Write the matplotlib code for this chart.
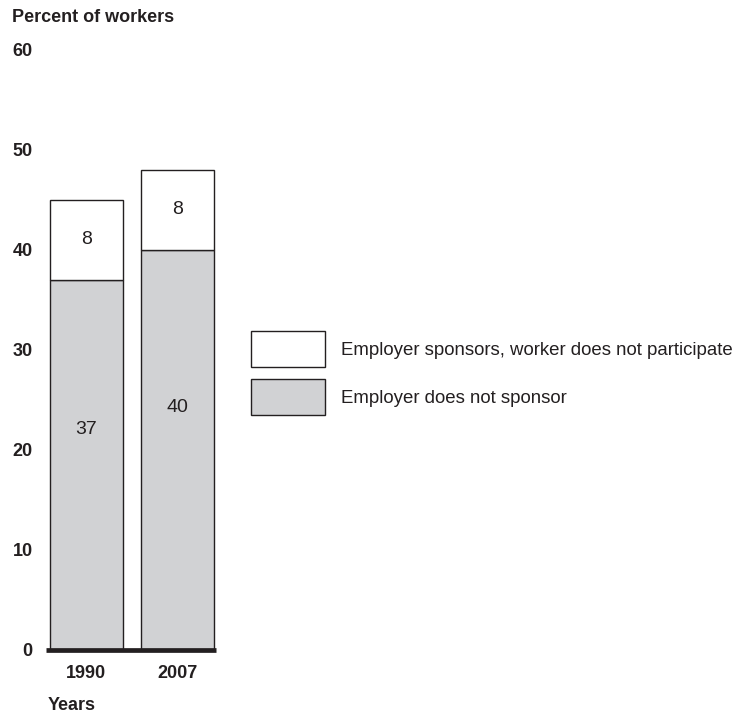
import matplotlib.pyplot as plt
from matplotlib.patches import Patch

plt.rcParams['font.family'] = ['Liberation Sans', 'DejaVu Sans']

# data
years = ['1990', '2007']
not_sponsor = [37, 40]
sponsor_not_participate = [8, 8]
series_names = ['Employer sponsors, worker does not participate',
                'Employer does not sponsor']
yticks = [0, 10, 20, 30, 40, 50, 60]

ink = '#231f20'
gray = '#d1d2d4'

fig = plt.figure(figsize=(7.39, 7.18), dpi=100)
W, H = 739, 718
ax = fig.add_axes([48 / W, (H - 650) / H, 168 / W, 600 / H])

x = range(len(years))
ax.bar(x, not_sponsor, width=0.8, color=gray, edgecolor=ink, linewidth=1.0)
ax.bar(x, sponsor_not_participate, width=0.8, bottom=not_sponsor,
       color='white', edgecolor=ink, linewidth=1.0)

# value labels
low_label_y = [22, 24.2]
for i in x:
    ax.text(i, low_label_y[i], str(not_sponsor[i]), ha='center', va='center',
            fontsize=14, color=ink)
    ax.text(i, not_sponsor[i] + sponsor_not_participate[i] / 2,
            str(sponsor_not_participate[i]), ha='center', va='center',
            fontsize=14, color=ink)

ax.axhline(0, xmin=-0.01, xmax=1.0, color=ink, linewidth=3.4, zorder=5,
           clip_on=False, solid_capstyle='butt')

ax.set_xlim(-0.42, 1.42)
ax.set_ylim(0, 60)
ax.set_yticks(yticks)
ax.set_yticklabels([str(t) for t in yticks], fontsize=13, fontweight='bold', color=ink)
ax.set_xticks(list(x))
ax.set_xticklabels(years, fontsize=13, fontweight='bold', color=ink)
ax.tick_params(axis='y', length=0, pad=11)
ax.tick_params(axis='x', length=0, pad=11)
for s in ax.spines.values():
    s.set_visible(False)

fig.text(12 / W, 1 - 18 / H, 'Percent of workers', fontsize=13, fontweight='bold',
         color=ink, va='center', ha='left')
fig.text(48 / W, 1 - 706 / H, 'Years', fontsize=13, fontweight='bold',
         color=ink, va='center', ha='left')

handles = [Patch(facecolor='white', edgecolor=ink, linewidth=1.0),
           Patch(facecolor=gray, edgecolor=ink, linewidth=1.0)]
fig.legend(handles, series_names, loc='upper left',
           bbox_to_anchor=(251 / W, 1 - 331 / H), frameon=False, fontsize=13.4,
           handlelength=3.98, handleheight=2.6, labelspacing=0.645,
           handletextpad=0.86, borderpad=0, borderaxespad=0, labelcolor=ink)

fig.savefig('out.png', dpi=100)
